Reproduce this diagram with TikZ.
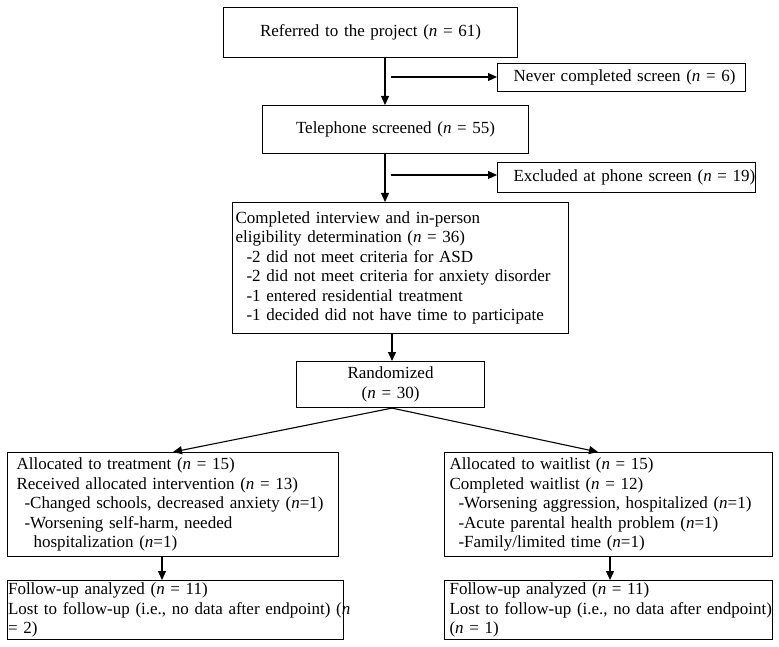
\documentclass[tikz,border=0pt]{standalone}
\usepackage{fontspec}
\setmainfont{Liberation Serif}
\usetikzlibrary{arrows.meta}
\begin{document}
\begin{tikzpicture}[x=1pt,y=-1pt,
  box/.style={draw, line width=1.1pt, anchor=north west, inner sep=0pt,
    font=\fontsize{17}{19.5}\selectfont},
  cbox/.style={box, align=center},
  lbox/.style={box, align=left},
  arr/.style={line width=1.1pt, -{Triangle[length=9pt,width=8pt]}},
]
\useasboundingbox[fill=white] (0,0) rectangle (779,647);

\node[cbox, minimum width=294pt, minimum height=50pt, text width=294pt] (ref) at (223,7)
  {Referred to the project (\textit{n} = 61)};
\node[lbox, minimum width=248pt, minimum height=28pt, text width=216pt, inner xsep=16pt] (nev) at (497,63)
  {\mbox{Never completed screen (\textit{n} = 6)}};
\node[cbox, minimum width=266pt, minimum height=48pt, text width=266pt] (tel) at (262,105)
  {Telephone screened (\textit{n} = 55)};
\node[lbox, minimum width=258pt, minimum height=30pt, text width=226pt, inner xsep=16pt] (exc) at (497,162)
  {\mbox{Excluded at phone screen (\textit{n} = 19)}};
\node[lbox, minimum width=336pt, minimum height=131pt, text width=330pt, inner xsep=3pt] (cmp) at (232,202)
  {Completed interview and in-person\\
   eligibility determination (\textit{n} = 36)\\
   \hspace*{11pt}-2 did not meet criteria for ASD\\
   \hspace*{11pt}\mbox{-2 did not meet criteria for anxiety disorder}\\
   \hspace*{11pt}-1 entered residential treatment\\
   \hspace*{11pt}\mbox{-1 decided did not have time to participate}};
\node[cbox, minimum width=188pt, minimum height=46pt, text width=188pt] (rnd) at (296,361)
  {Randomized\\(\textit{n} = 30)};
\node[lbox, minimum width=331pt, minimum height=104pt, text width=313pt, inner xsep=9pt] (trt) at (7,452)
  {Allocated to treatment (\textit{n} = 15)\\
   Received allocated intervention (\textit{n} = 13)\\
   \hspace*{8pt}\mbox{-Changed schools, decreased anxiety (\textit{n}=1)}\\
   \hspace*{8pt}-Worsening self-harm, needed\\
   \hspace*{17pt}hospitalization (\textit{n}=1)};
\node[lbox, minimum width=328pt, minimum height=104pt, text width=318pt, inner xsep=5pt] (wl) at (444,452)
  {Allocated to waitlist (\textit{n} = 15)\\
   Completed waitlist (\textit{n} = 12)\\
   \hspace*{9pt}\mbox{-Worsening aggression, hospitalized (\textit{n}=1)}\\
   \hspace*{9pt}-Acute parental health problem (\textit{n}=1)\\
   \hspace*{9pt}-Family/limited time (\textit{n}=1)};
\node[lbox, minimum width=336pt, minimum height=59pt, text width=335pt, inner xsep=0.5pt] (fl) at (7,580)
  {Follow-up analyzed (\textit{n} = 11)\\
   \mbox{Lost to follow-up (i.e., no data after endpoint) (\textit{n}}\\
   = 2)};
\node[lbox, minimum width=328pt, minimum height=59pt, text width=318pt, inner xsep=5pt] (fr) at (444,580)
  {Follow-up analyzed (\textit{n} = 11)\\
   \mbox{Lost to follow-up (i.e., no data after endpoint)}\\
   (\textit{n} = 1)};

\coordinate (x1) at (385,0);
\coordinate (x2) at (392,0);
\coordinate (x3) at (162,0);
\coordinate (x4) at (610,0);
\coordinate (a1) at (391,77);
\coordinate (a2) at (391,175);
\coordinate (t1) at (173,452);
\coordinate (t2) at (598,452);

\draw[arr] (ref.south -| x1) -- (tel.north -| x1);
\draw[arr] (a1) -- (a1 -| nev.west);
\draw[arr] (tel.south -| x1) -- (cmp.north -| x1);
\draw[arr] (a2) -- (a2 -| exc.west);
\draw[arr] (cmp.south -| x2) -- (rnd.north -| x2);
\draw[arr] (rnd.south -| x2) -- (t1);
\draw[arr] (rnd.south -| x2) -- (t2);
\draw[arr] (trt.south -| x3) -- (fl.north -| x3);
\draw[arr] (wl.south -| x4) -- (fr.north -| x4);
\end{tikzpicture}
\end{document}
